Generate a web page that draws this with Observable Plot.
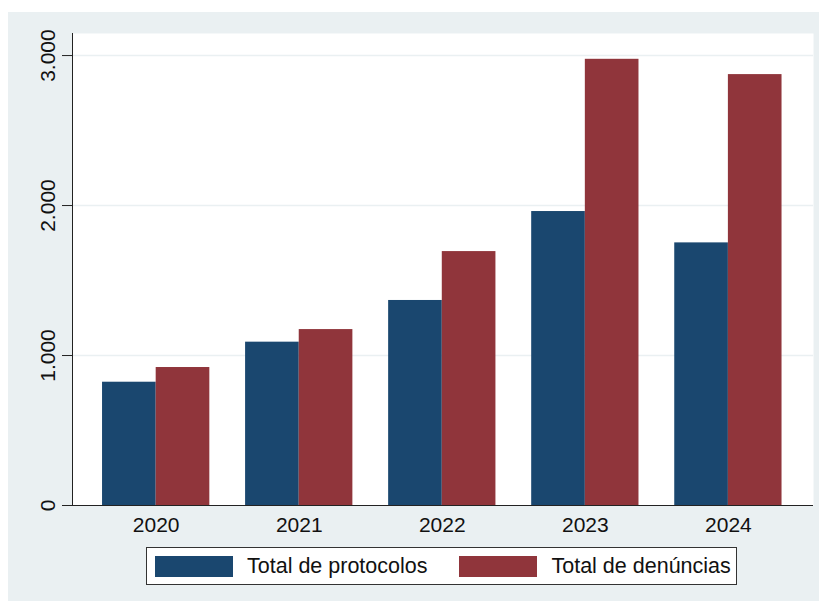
<!DOCTYPE html>
<html>
<head>
<meta charset="utf-8">
<script src="https://cdn.jsdelivr.net/npm/d3@7"></script>
<script src="https://cdn.jsdelivr.net/npm/@observablehq/plot@0.6"></script>
<style>
  html, body { margin: 0; padding: 0; background: #ffffff; }
  #wrap {
    position: absolute; left: 8px; top: 12px; width: 811px; height: 589px;
    background: #eaf0f2; font-family: "Liberation Sans", Arial, sans-serif;
  }
  #legend {
    margin: 5px 0 0 138px; width: 589px; height: 36px;
    border: 1px solid #333; background: #fff;
    display: flex; align-items: center; box-sizing: content-box;
  }
  .item { display: flex; align-items: center; }
  .sw { width: 78px; height: 21px; margin-left: 8px; margin-right: 14px; }
  .lab { font-size: 21.5px; color: #111; }
</style>
</head>
<body>
<div id="wrap"><div id="chart"></div><div id="legend"></div></div>
<script>
const years = [2020, 2021, 2022, 2023, 2024];
const protocolos = [822, 1089, 1367, 1960, 1751];
const denuncias = [920, 1173, 1693, 2975, 2873];
const seriesNames = ["Total de protocolos", "Total de denúncias"];
const seriesColors = ["#1a476f", "#90353b"];
const yTicks = [0, 1000, 2000, 3000];

const halfGroup = 0.375; // group half-width in year units
const data = [];
years.forEach((y, i) => {
  data.push({year: y, series: seriesNames[0], value: protocolos[i], x1: y - halfGroup, x2: y});
  data.push({year: y, series: seriesNames[1], value: denuncias[i], x1: y, x2: y + halfGroup});
});

const xDomain = [2019.415, 2024.595];
const fmt = v => d3.format(",")(v).replace(/,/g, ".");

const chart = Plot.plot({
  width: 811,
  height: 530,
  marginLeft: 64,
  marginRight: 6,
  marginTop: 21,
  marginBottom: 37,
  style: {background: "transparent", fontFamily: "Liberation Sans, Arial, sans-serif", color: "#111"},
  x: {type: "linear", domain: xDomain, label: null},
  y: {domain: [0, 3147], label: null},
  color: {domain: seriesNames, range: seriesColors},
  marks: [
    Plot.frame({fill: "white", stroke: null}),
    Plot.gridY(yTicks.filter(d => d > 0), {stroke: "#eaf0f2", strokeOpacity: 1, strokeWidth: 1.5}),
    Plot.rectY(data, {x1: "x1", x2: "x2", y1: 0, y2: "value", fill: "series"}),
    Plot.ruleX([xDomain[0]], {stroke: "#222", strokeWidth: 1}),
    Plot.ruleY([0], {stroke: "#222", strokeWidth: 1}),
    Plot.axisY({ticks: yTicks, tickSize: 10, tickFormat: fmt, tickRotate: -90, fontSize: 21, tickPadding: 8, stroke: "#222", label: null}),
    Plot.axisX({ticks: years, tickSize: 0, tickFormat: d => String(d), fontSize: 21, tickPadding: 12, label: null})
  ]
});
document.getElementById("chart").appendChild(chart);

const legend = document.getElementById("legend");
seriesNames.forEach((name, i) => {
  const item = document.createElement("div");
  item.className = "item";
  if (i > 0) item.style.marginLeft = "24px";
  const sw = document.createElement("div");
  sw.className = "sw";
  sw.style.background = seriesColors[i];
  const lab = document.createElement("span");
  lab.className = "lab";
  lab.textContent = name;
  item.appendChild(sw);
  item.appendChild(lab);
  legend.appendChild(item);
});
</script>
</body>
</html>
